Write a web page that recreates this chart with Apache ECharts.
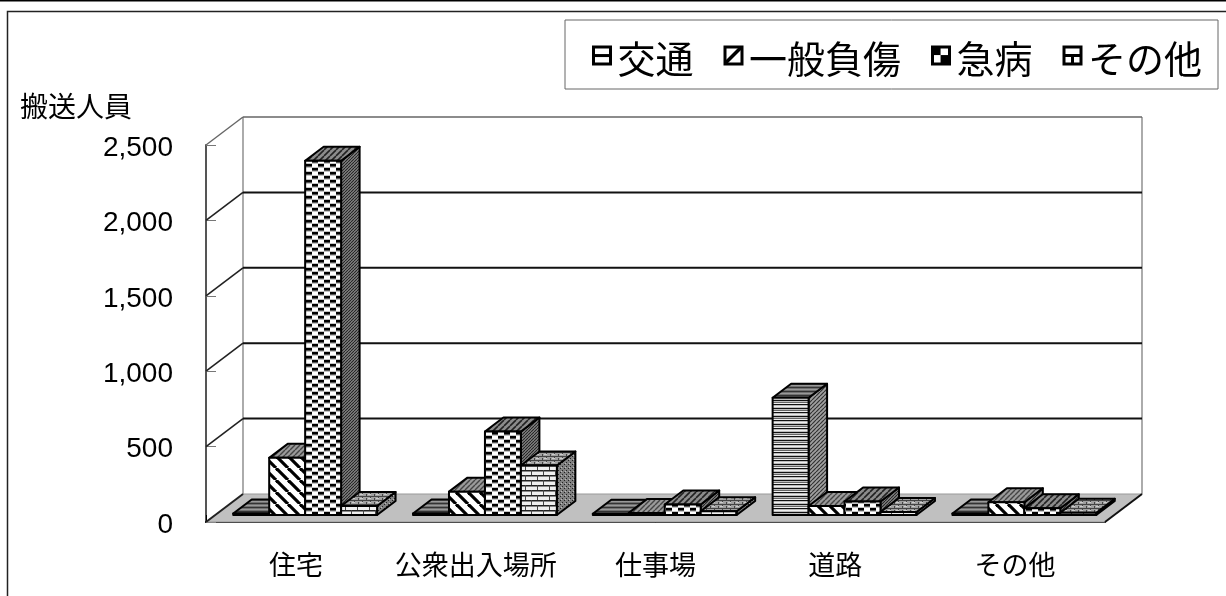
<!DOCTYPE html>
<html><head><meta charset="utf-8"><style>html,body{margin:0;padding:0;background:#fff;overflow:hidden}#c{width:1226px;height:596px}</style>
<script src="https://cdn.jsdelivr.net/npm/echarts@6/dist/echarts.min.js"></script></head>
<body><div id="c"></div>
<script>
var categories = ['住宅','公衆出入場所','仕事場','道路','その他'];
var seriesNames = ['交通','一般負傷','急病','その他'];
var traffic = [10, 10, 8, 778, 10];
var injury = [379, 155, 14, 60, 85];
var illness = [2349, 554, 70, 90, 45];
var other = [60, 328, 25, 20, 15];
var yMax = 2500, yStep = 500;
var yTicks = [0, 500, 1000, 1500, 2000, 2500];
var seriesValues = [traffic, injury, illness, other];

var DX = 37, DY = 28;
function tile(w, h, draw) {
  var c = document.createElement('canvas'); c.width = w; c.height = h;
  var g = c.getContext('2d'); draw(g, w, h);
  return { image: c, repeat: 'repeat' };
}
function fillR(g, col, x, y, w, h) { g.fillStyle = col; g.fillRect(x, y, w, h); }
function diag(bg, fg, p, lw, dir) {
  return tile(p, p, function (g, w, h) {
    fillR(g, bg, 0, 0, w, h);
    g.strokeStyle = fg; g.lineWidth = lw;
    for (var i = -1; i <= 1; i++) {
      g.beginPath();
      if (dir > 0) { g.moveTo(i * p, 0); g.lineTo(i * p + p, p); }
      else { g.moveTo(i * p + p, 0); g.lineTo(i * p, p); }
      g.stroke();
    }
  });
}
var frontPat = [
  tile(4, 8, function (g) { fillR(g,'#bbb',0,0,4,8); fillR(g,'#111',0,0,4,1); fillR(g,'#666',0,2,4,1); fillR(g,'#eee',0,3,4,1); fillR(g,'#111',0,4,4,1); fillR(g,'#eee',0,6,4,1); }),
  diag('#fff', '#000', 12, 3.2, 1),
  tile(12, 8, function (g) { fillR(g,'#c4c4c4',0,0,12,8); fillR(g,'#000',0,0,6,2); fillR(g,'#fff',6,0,6,3); fillR(g,'#555',0,2,6,1); fillR(g,'#fff',0,4,6,3); fillR(g,'#000',6,4,6,2); fillR(g,'#555',6,6,6,1); }),
  tile(12, 10, function (g) { fillR(g,'#efefef',0,0,12,10); fillR(g,'#222',0,0,12,1); fillR(g,'#888',0,1,12,1); fillR(g,'#222',0,5,12,1); fillR(g,'#888',0,6,12,1); fillR(g,'#444',3,0,1,5); fillR(g,'#444',9,5,1,5); })
];
var sidePat = [
  diag('#a0a0a0', '#333', 4, 1.2, -1),
  diag('#888', '#222', 4, 1.2, -1),
  diag('#8c8c8c', '#222', 3, 1.1, -1),
  tile(4, 4, function (g) { fillR(g,'#808080',0,0,4,4); fillR(g,'#222',0,0,1,1); fillR(g,'#222',2,2,1,1); fillR(g,'#bbb',1,3,1,1); })
];
var topPat = [
  tile(4, 4, function (g) { fillR(g,'#707070',0,0,4,4); fillR(g,'#999',0,1,4,1); fillR(g,'#333',0,3,4,1); }),
  diag('#9a9a9a', '#444', 5, 1.4, -1),
  diag('#8c8c8c', '#222', 6, 1.6, -1),
  tile(8, 4, function (g) { fillR(g,'#a0a0a0',0,0,8,4); fillR(g,'#444',0,0,8,1); fillR(g,'#444',2,0,1,2); fillR(g,'#444',6,2,1,2); fillR(g,'#ccc',0,2,3,1); })
];
var legendPat = [
  tile(17, 17, function (g) { fillR(g,'#fff',0,0,17,17); fillR(g,'#000',0,7,17,3); }),
  tile(17, 17, function (g) { fillR(g,'#fff',0,0,17,17); g.fillStyle='#000'; g.beginPath(); g.moveTo(0,17); g.lineTo(0,14); g.lineTo(14,0); g.lineTo(17,0); g.lineTo(17,2); g.lineTo(2,17); g.closePath(); g.fill(); }),
  tile(17, 17, function (g) { fillR(g,'#fff',0,0,17,17); fillR(g,'#000',0,0,8,8); fillR(g,'#000',8,8,9,9); }),
  tile(17, 17, function (g) { fillR(g,'#fff',0,0,17,17); fillR(g,'#000',0,7,17,3); fillR(g,'#000',7,7,3,10); })
];
var FONT = '"Noto Sans CJK JP"';

function renderFrame(params, api) {
  var v = api.value(0), p = api.coord([0, v]), cs = params.coordSys;
  var L = cs.x, R = cs.x + cs.width, Y = p[1], kids = [];
  function ln(x1, y1, x2, y2, col, w) {
    kids.push({ type: 'line', shape: { x1: x1, y1: y1, x2: x2, y2: y2 }, style: { stroke: col, lineWidth: w, fill: null } });
  }
  if (v === 0) {
    kids.push({ type: 'polygon', shape: { points: [[L, Y], [L + DX, Y - DY], [R + DX, Y - DY], [R, Y]] }, style: { fill: '#c0c0c0', stroke: '#999', lineWidth: 1 } });
    var top = api.coord([0, yMax])[1];
    ln(L + DX, Y - DY, L + DX, top - DY, '#888', 1.4);
    ln(R + DX, Y - DY, R + DX, top - DY, '#888', 1.4);
    ln(L, Y, L + DX, Y - DY, '#222', 2);
    ln(R, Y, R + DX, Y - DY, '#111', 2);
  } else {
    var isTop = v === yMax;
    ln(L, Y, L + DX, Y - DY, isTop ? '#666' : '#222', isTop ? 1.4 : 1.6);
    ln(L + DX, Y - DY, R + DX, Y - DY, isTop ? '#666' : '#111', isTop ? 1.4 : 2);
  }
  return { type: 'group', children: kids };
}
function barRenderer(si) {
  return function (params, api) {
    var base = api.coord([api.value(0), 0]), tip = api.coord([api.value(0), api.value(1)]);
    var band = api.size([1, 0])[0], w = band / 5;
    var fx = base[0] + (si - 2) * w + DX / 4, by = base[1] - DY / 4, ty = tip[1] - DY / 4;
    var bx = DX / 2, byy = DY / 2, st = { stroke: '#000', lineWidth: 2, lineJoin: 'round' };
    function poly(pts, pat) { return { type: 'polygon', shape: { points: pts }, style: Object.assign({ fill: pat }, st) }; }
    return { type: 'group', children: [
      poly([[fx + w, by], [fx + w + bx, by - byy], [fx + w + bx, ty - byy], [fx + w, ty]], sidePat[si]),
      poly([[fx, ty], [fx + bx, ty - byy], [fx + w + bx, ty - byy], [fx + w, ty]], topPat[si]),
      poly([[fx, by], [fx, ty], [fx + w, ty], [fx + w, by]], frontPat[si])
    ] };
  };
}
var series = [{
  type: 'custom', name: 'frame', silent: true, z: 1, clip: false,
  data: yTicks.map(function (t) { return [t]; }), encode: { y: 0 },
  renderItem: renderFrame
}];
seriesNames.forEach(function (n, si) {
  series.push({
    type: 'custom', name: n, z: 2 + si, clip: false,
    data: seriesValues[si].map(function (v, i) { return [i, v]; }),
    encode: { x: 0, y: 1 },
    renderItem: barRenderer(si)
  });
});
var chart = echarts.init(document.getElementById('c'), null, { renderer: 'canvas' });
chart.setOption({
  animation: false, backgroundColor: '#fff',
  grid: { left: 206, right: 121, top: 145, bottom: 74 },
  legend: {
    left: 565, top: 20, orient: 'horizontal', backgroundColor: '#fff', borderColor: '#666', borderWidth: 1,
    padding: [20, 16, 11, 27], itemGap: 30, itemWidth: 17, itemHeight: 17, icon: 'rect',
    formatter: '{a|{name}}',
    textStyle: { rich: { a: { fontFamily: FONT, fontSize: 38, color: '#000', padding: [7, 0, 0, 2] } } },
    data: seriesNames.map(function (n, i) {
      return { name: n, itemStyle: { color: legendPat[i], borderColor: '#000', borderWidth: 3 } };
    })
  },
  xAxis: {
    type: 'category', data: categories, boundaryGap: true,
    axisLine: { lineStyle: { color: '#000', width: 2 } },
    axisTick: { show: true, inside: true, length: 7, alignWithLabel: false, lineStyle: { color: '#000', width: 1 } },
    axisLabel: { fontFamily: FONT, fontSize: 27, color: '#000', margin: 29, interval: 0 }
  },
  yAxis: {
    type: 'value', min: 0, max: yMax, interval: yStep,
    name: '搬送人員', nameLocation: 'end', nameGap: 25,
    nameTextStyle: { fontFamily: FONT, fontSize: 28, color: '#000', align: 'left', padding: [0, 0, 0, -186] },
    axisLine: { show: true, lineStyle: { color: '#555', width: 2 } },
    axisTick: { show: true, inside: true, length: 10, lineStyle: { color: '#777', width: 1 } },
    splitLine: { show: false },
    axisLabel: { fontFamily: '"Liberation Sans"', fontSize: 28, color: '#000', margin: 33, verticalAlign: 'top', padding: [-11, 0, 0, 0], formatter: function (v) { return v.toLocaleString('en-US'); } }
  },
  graphic: [
    { type: 'line', silent: true, z: -1, shape: { x1: 0, y1: 0.5, x2: 1226, y2: 0.5 }, style: { stroke: '#000', lineWidth: 2 } },
    { type: 'polyline', silent: true, z: -1, shape: { points: [[7.5, 596], [7.5, 11.5], [1226, 11.5]] }, style: { fill: null, stroke: '#222', lineWidth: 1.5 } }
  ],
  series: series
});
</script></body></html>
